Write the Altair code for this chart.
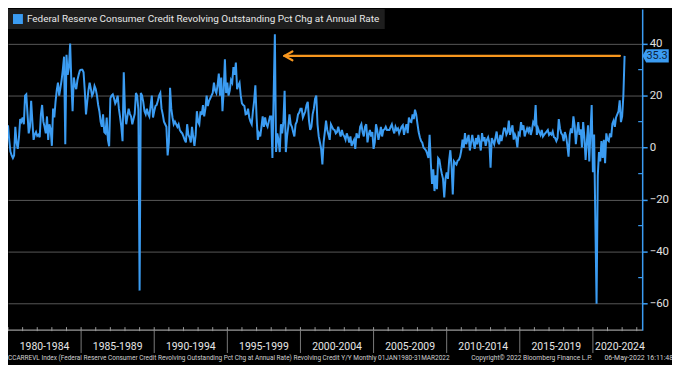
import altair as alt
import pandas as pd

SERIES = "Federal Reserve Consumer Credit Revolving Outstanding Pct Chg at Annual Rate"
FONT = "Roboto, Liberation Sans, sans-serif"
BLUE = "#3b9cf2"
ORANGE = "#f7961e"

# Monthly values (% chg at annual rate), Jan of each block start onward
s1980 = [8.6, 3, -1.5, -3, -4, -3, 8, 2, -0.5, 4, 11, 10,
         11.6, 9, 20, 20.5, 13, 5.5, 8, 18, 10, 3, 5, 6,
         4.5, 5, 4, 12.8, 16.4, 10, 8, 5.5, 12, 3, 9, 7,
         0.7, 15, 11.6, 17.6, 22, 25, 20, 23, 26, 30, 35, 1.3,
         35.7, 28, 31, 40, 25, 14, 27, 24, 22.5, 26, 28, 29.7]
s1985 = [30, 30, 29, 22, 12.8, 17.6, 22, 25, 22.6, 20, 21, 23.7,
         22.5, 20, 16.4, 14, 10, 8, 12.8, 6, 5.5, 11.6, 3, 0.5,
         19, 20, 20.5, 19, 17, 18, 20, 15, 11.6, 8, 2.5, 29,
         14, 9, 12, 15, 13, 12, 9, 11, 13, 21, 20, 14.6,
         -55, 21, 20, 17.6, 14, 12.8, 15, 13, 12, 16, 20, 11.6]
s1990 = [14, 16, 16.4, 18, 20, 21, 15, 12.8, 10, 9, 8, -3,
         2, 23, 15, 11.6, 9, 10, 9, 8, 9, 6.8, 6, 5.5,
         4.3, 3, 2, 9, 5, 4, 2, 8, 4, 0.7, 5, 14,
         10, 9, 14, 12.6, 16.4, 12, 15, 20, 16, 18, 19, 20,
         21, 25, 22, 21, 24, 28.5, 20, 27, 14, 22, 34, 21]
s1995 = [25, 20, 22, 26, 25, 31, 28, 32.7, 22.5, 24, 25, 20,
         17, 16.4, 16, 12.8, 13, 15, 11.6, 10, 9, 14, 18, 24,
         11.6, 3, 5.5, 4.3, 8, 12, 8, 11.6, 9, 8, 10, 12,
         12, -4, 20, 43.6, -1.7, 5.5, 3, -1.7, 9, 5.5, 10, 21.9,
         -1.7, 4.3, 8, 12.8, 9, 8, 6, 4.3, 9, 10, 12.8, 13.5]
s2000 = [15, 15, 11.6, 12.8, 14, 16.4, 17.6, 10.4, 6.8, 8, 12.8, 15,
         18.8, 20, 9, 4.3, 2, -0.5, -6.5, 2, 6, 10.4, 6.8, 5,
         3, 9, 8, 7, 6.8, 5.5, 6, 8, 6, 4.3, 6.8, 5,
         4.3, 3, 5.5, 4, 2, 4.3, 0.7, 2, 3, -0.5, 5.5, 4,
         4, 8, 9, 6, 4.3, 8, 9, 2, 5, 6.8, 4.3, 6]
s2005 = [-0.5, 2, 9, 6.8, 3, 5, 8, 4.3, 6.8, 7, 8, 6.8,
         6.8, 6.8, 8, 9, 7, 5.5, 8, 6.8, 7.4, 5.5, 6.8, 8,
         8.6, 4.9, 7.4, 9, 5.6, 11.6, 10, 9.8, 12.8, 11, 14.6, 12.8,
         9.2, 6, 4, 2.5, 1.9, 0, -0.5, -1.1, -2.3, -4, 4.9, -6,
         -14, -8.3, -16.7, -10.7, -16, -4, -4.6, -7.7, -10, -12, -19.2, -12]
s2010 = [-9.5, -12, -5, -1, -7, -18, -5.3, -6, -6.5, -5, -4.7, -3.5,
         -1.1, 3.1, -0.1, 5.6, 1.3, 3, 4.9, -1.1, 2, 4.9, 1.9, -0.5,
         3.7, 1.3, 4.9, 2, -1.1, 5.6, 2.5, 4, 0.7, 3, 4, 2,
         -7.7, 3.7, 2.5, 1.3, 3.7, 6.2, 2.5, 1.3, 4.9, 2.5, 4.9, 7.4,
         7.4, 5, 6, 10.4, 4.9, 7, 8.6, 3.1, 5, 3.7, 0.1, 5.6]
s2015 = [4.9, 9.8, 6.8, 8.6, 4.3, 6, 7.4, 6.2, 8, 4.9, 6.8, 9.8,
         9, 16.4, 4.9, 7.4, 6, 4.9, 6.8, 4.3, 5, 5.6, 6.2, 6.8,
         4.9, 5.6, 5, 6.2, 4, 3.7, 2.5, 3.7, 11, 7.4, 5.5, 4.9,
         2.5, 6, 4.3, 1, -3.5, 4.9, 7.4, 5.6, 12, 8.6, 1.3, 6.2,
         9.8, 4.9, 7, 0.1, 9.8, 4, -4.7, 2, 8.6, -5.3, 6, 16.4]
s2020 = [-9.5, 5, -28, -60, -10.7, -1.7, -5.3, 2.5, -4, 3, -6, 5.5,
         3, 2.5, 5.5, 4, 9.2, 10.4, 8, 11.6, 12.8, 14, 18.2, 9.8,
         12, 20, 35.3]

block_starts = [1980, 1985, 1990, 1995, 2000, 2005, 2010, 2015, 2020]
blocks = [s1980, s1985, s1990, s1995, s2000, s2005, s2010, s2015, s2020]

year_ticks = list(range(1980, 2024))
separators = [1985, 1990, 1995, 2000, 2005, 2010, 2015, 2020]
period_centers = [1982.5, 1987.5, 1992.5, 1997.5, 2002.5, 2007.5, 2012.5, 2017.5, 2021.85]
period_labels = ["1980-1984", "1985-1989", "1990-1994", "1995-1999", "2000-2004",
                 "2005-2009", "2010-2014", "2015-2019", "2020-2024"]
y_major = [-60, -40, -20, 0, 20, 40]
y_minor = [-50, -30, -10, 10, 30]

arrow_from = 2021.85
arrow_to = 1998.9
arrow_level = 35.3
last_value = 35.3

footer_left = ("CCARREVL Index (Federal Reserve Consumer Credit Revolving Outstanding Pct Chg "
               "at Annual Rate) Revolving Credit Y/Y  Monthly 01JAN1980-31MAR2022")
footer_mid = "Copyright\u00a9 2022 Bloomberg Finance L.P."
footer_right = "06-May-2022 16:11:48"

rows = []
for start, vals in zip(block_starts, blocks):
    for i, v in enumerate(vals):
        rows.append({"t": start + i / 12.0, "v": v, "s": SERIES})
df = pd.DataFrame(rows)

W, H = 638, 323
XDOM = [1980, 2023.37]
YDOM = [-70.2, 53.3]
xs = alt.Scale(domain=XDOM, nice=False, zero=False)
ys = alt.Scale(domain=YDOM, nice=False, zero=False)

line = alt.Chart(df).mark_line(strokeWidth=2, clip=True).encode(
    x=alt.X("t:Q", scale=xs, axis=None),
    y=alt.Y("v:Q", scale=ys, axis=alt.Axis(
        orient="right", values=y_major, grid=True, gridColor="#585858", gridWidth=1,
        domainColor=BLUE, domainWidth=1.5, tickColor=BLUE, tickSize=5, tickWidth=1.5,
        labelColor="#e0e0e0", labelFont=FONT, labelFontSize=11.5, labelPadding=2,
        title=None, format="d")),
    color=alt.Color("s:N", scale=alt.Scale(range=[BLUE]), legend=alt.Legend(
        orient="top-left", title=None, offset=0, padding=5, fillColor="#1e1e1e",
        labelColor="#e8e8e8", labelFont=FONT, labelFontSize=10, labelLimit=700,
        symbolType="square", symbolSize=100, symbolFillColor=BLUE, symbolStrokeColor=BLUE,
        symbolStrokeWidth=0, labelOffset=4)),
)

arrow_df = pd.DataFrame([
    {"x": arrow_to, "x2": arrow_from, "y": arrow_level, "y2": arrow_level},
    {"x": arrow_to, "x2": arrow_to + 0.55, "y": arrow_level, "y2": arrow_level + 1.7},
    {"x": arrow_to, "x2": arrow_to + 0.55, "y": arrow_level, "y2": arrow_level - 1.7},
])
arrow = alt.Chart(arrow_df).mark_rule(color=ORANGE, strokeWidth=2.2, strokeCap="round").encode(
    x=alt.X("x:Q", scale=xs), x2="x2:Q", y=alt.Y("y:Q", scale=ys), y2="y2:Q")

minor = alt.Chart(pd.DataFrame({"v": y_minor})).mark_rule(color=BLUE, strokeWidth=1.2).encode(
    x=alt.value(W - 4), x2=alt.value(W), y=alt.Y("v:Q", scale=ys))

xline = alt.Chart(pd.DataFrame({"t": [XDOM[0]], "t2": [XDOM[1]]})).mark_rule(
    color="#9a9a9a", strokeWidth=1.2).encode(
    x=alt.X("t:Q", scale=xs), x2="t2:Q", y=alt.value(H))

yticks = alt.Chart(pd.DataFrame({"t": year_ticks})).mark_rule(color="#9a9a9a", strokeWidth=1).encode(
    x=alt.X("t:Q", scale=xs), y=alt.value(H - 3), y2=alt.value(H + 1))

seps = alt.Chart(pd.DataFrame({"t": separators})).mark_rule(color="#7a7a7a", strokeWidth=1).encode(
    x=alt.X("t:Q", scale=xs), y=alt.value(H), y2=alt.value(H + 23))

plabels = alt.Chart(pd.DataFrame({"t": period_centers, "lab": period_labels})).mark_text(
    font=FONT, fontSize=10.5, color="#e6e6e6", baseline="middle").encode(
    x=alt.X("t:Q", scale=xs), y=alt.value(H + 17), text="lab:N")

tag_path = "M-1,0L-0.72,-0.5L1,-0.5L1,0.5L-0.72,0.5Z"
tag_df = pd.DataFrame({"v": [last_value], "lab": [f"{last_value:.1f}"]})
tag = alt.Chart(tag_df).mark_point(shape=tag_path, filled=True, fill=BLUE, opacity=1,
                                   size=700, strokeWidth=0).encode(
    x=alt.value(W + 13.5), y=alt.Y("v:Q", scale=ys))
tagtext = alt.Chart(tag_df).mark_text(font=FONT, fontSize=11, color="#0c2440", align="center",
                                      baseline="middle", dx=1).encode(
    x=alt.value(W + 14), y=alt.Y("v:Q", scale=ys), text="lab:N")

foot_df = pd.DataFrame({"x": [0, 466, 600], "txt": [footer_left, footer_mid, footer_right],
                        "fs": [6.5, 6.7, 7.0]})
foot = alt.Chart(foot_df).mark_text(font=FONT, color="#d0d0d0", align="left",
                                    baseline="middle").encode(
    x=alt.X("x:Q", scale=None), y=alt.value(H + 28), text="txt:N",
    size=alt.Size("fs:Q", scale=None, legend=None))

chart = alt.layer(line, arrow, minor, xline, yticks, seps, plabels, tag, tagtext, foot).resolve_scale(
    color="independent").properties(
    width=W, height=H,
    autosize=alt.AutoSizeParams(type="none"),
    padding={"left": 0, "top": 0, "right": 30, "bottom": 34},
).configure(background="#000000").configure_view(stroke=None)

chart.save("out.html", embed_options={"renderer": "svg", "actions": False})
